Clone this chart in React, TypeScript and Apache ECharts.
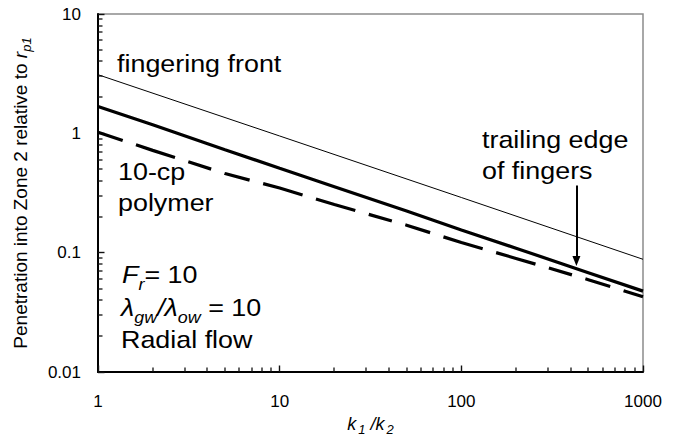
import React, { useEffect, useRef } from "react";
import * as echarts from "echarts";

// Permeability contrast k1/k2 and penetration into zone 2 (relative to r_p1)
const frontRatio = [1, 10, 100, 1000];
const frontValues = [3.1, 0.95, 0.29, 0.088];

const trailingRatio = [1, 2, 5, 10, 20, 50, 100, 200, 500, 1000];
const trailingValues = [1.68, 1.18, 0.73, 0.51, 0.357, 0.223, 0.155, 0.109, 0.068, 0.0476];

const polymerRatio = [1, 2, 5, 10, 20, 50, 100, 200, 500, 1000];
const polymerValues = [1.02, 0.72, 0.46, 0.348, 0.253, 0.17, 0.1216, 0.0895, 0.0594, 0.0427];

const xTickLabels = ["1", "10", "100", "1000"];
const yTickLabels = ["0.01", "0.1", "1", "10"];

// log ticks: 2..9 inside every decade
const minorSteps = [2, 3, 4, 5, 6, 7, 8, 9];
const xDecades = [1, 10, 100];
const yDecades = [0.01, 0.1, 1];

// arrow pointing at the trailing edge of the fingers
const arrowAt = 430;
const arrowFrom = 0.366;
const arrowTo = 0.085;

const FONT = "'Liberation Sans', Arial, Helvetica, sans-serif";
const X_MIN = 1;
const X_MAX = 1000;
const Y_MIN = 0.01;
const Y_MAX = 10;
const W = 681;
const H = 436;

const pairs = (xs: number[], ys: number[]) => xs.map((x, i) => [x, ys[i]]);

export default function App() {
  const ref = useRef<HTMLDivElement>(null);

  useEffect(() => {
    const chart = echarts.init(ref.current!, null, { renderer: "svg", width: W, height: H });

    const annoSize = 24;
    const annoScale = 1.12;
    const plain = (text: string, x: number, y: number) => ({
      type: "text",
      x,
      y,
      scaleX: annoScale,
      silent: true,
      style: {
        text,
        fill: "#000",
        fontFamily: FONT,
        fontSize: annoSize,
        lineHeight: 24,
        verticalAlign: "top",
        align: "left",
      },
    });
    const richStyles = {
      m: { fontFamily: FONT, fontSize: annoSize, lineHeight: 24, verticalAlign: "top", fill: "#000" },
      mi: {
        fontFamily: FONT,
        fontSize: annoSize,
        fontStyle: "italic",
        lineHeight: 24,
        verticalAlign: "top",
        fill: "#000",
      },
      si: {
        fontFamily: FONT,
        fontSize: 16,
        fontStyle: "italic",
        lineHeight: 16,
        padding: [14, 0, 0, 0],
        verticalAlign: "top",
        fill: "#000",
      },
    };
    const rich = (text: string, x: number, y: number) => ({
      type: "text",
      x,
      y,
      scaleX: annoScale,
      silent: true,
      style: {
        text,
        rich: richStyles,
        fill: "#000",
        fontFamily: FONT,
        fontSize: annoSize,
        verticalAlign: "top",
        align: "left",
      },
    });

    const labels = [
      plain("fingering front", 117, 52),
      plain("10-cp", 118, 160),
      plain("polymer", 118, 191),
      plain("trailing edge", 482, 128),
      plain("of fingers", 482, 159),
      rich("{mi|F}{si|r}{m|= 10}", 122, 263),
      rich("{mi|λ}{si|gw}{mi|/λ}{si|ow}{m| = 10}", 121, 296),
      plain("Radial flow", 121, 328),
    ];

    const axisText = { color: "#000", fontSize: 17, fontFamily: FONT };

    const xMinor: number[][] = [];
    xDecades.forEach((d) => minorSteps.forEach((m) => xMinor.push([d * m, Y_MIN])));
    const yMinor: number[][] = [];
    yDecades.forEach((d) => minorSteps.forEach((m) => yMinor.push([X_MIN, d * m])));

    // short inward minor ticks at 2..9 of each decade
    const minorTickItem = (horizontal: boolean) => (params: any, api: any) => {
      const p = api.coord([api.value(0), api.value(1)]);
      return horizontal
        ? {
            type: "rect",
            shape: { x: p[0], y: Math.round(p[1]) - 0.65, width: 4.5, height: 1.3 },
            style: { fill: "#111" },
          }
        : {
            type: "rect",
            shape: { x: Math.round(p[0]) - 0.65, y: p[1] - 4.5, width: 1.3, height: 4.5 },
            style: { fill: "#111" },
          };
    };

    chart.setOption({
      animation: false,
      backgroundColor: "#fff",
      textStyle: { fontFamily: FONT, color: "#000", fontSize: 17 },
      grid: {
        left: 98,
        top: 14,
        width: 545,
        height: 358,
        outerBoundsMode: "none",
        containLabel: false,
        show: true,
        borderColor: "#8c8c8c",
        borderWidth: 1.5,
      },
      xAxis: {
        type: "log",
        logBase: 10,
        min: X_MIN,
        max: X_MAX,
        axisLine: { show: true, lineStyle: { color: "#000", width: 2 } },
        axisTick: { show: true, inside: true, length: 6.5, lineStyle: { color: "#111", width: 1.4 } },
        axisLabel: {
          show: true,
          margin: 21,
          ...axisText,
          formatter: (v: number) => xTickLabels[Math.round(Math.log10(v))],
        },
        splitLine: { show: false },
        name: "{i|k}{s|1}{i| /k}{s|2}",
        nameLocation: "middle",
        nameGap: 37,
        nameTextStyle: {
          color: "#000",
          fontFamily: FONT,
          rich: {
            i: { fontSize: 18, fontStyle: "italic", fontFamily: FONT, lineHeight: 18, verticalAlign: "top", color: "#000" },
            s: {
              fontSize: 13,
              fontStyle: "italic",
              fontFamily: FONT,
              lineHeight: 12,
              padding: [8, 0, 0, 2],
              verticalAlign: "top",
              color: "#000",
            },
          },
        },
      },
      yAxis: {
        type: "log",
        logBase: 10,
        min: Y_MIN,
        max: Y_MAX,
        axisLine: { show: true, lineStyle: { color: "#000", width: 2 } },
        axisTick: { show: true, inside: true, length: 6.5, lineStyle: { color: "#111", width: 1.4 } },
        axisLabel: {
          show: true,
          margin: 17,
          ...axisText,
          formatter: (v: number) => yTickLabels[Math.round(Math.log10(v)) + 2],
        },
        splitLine: { show: false },
        name: "{n|Penetration into Zone 2 relative to }{i|r}{s|p1}",
        nameLocation: "middle",
        nameRotate: 90,
        nameGap: 67,
        nameTextStyle: {
          color: "#000",
          fontFamily: FONT,
          rich: {
            n: { fontSize: 19, fontFamily: FONT, lineHeight: 20, verticalAlign: "top", color: "#000" },
            i: { fontSize: 19, fontStyle: "italic", fontFamily: FONT, lineHeight: 20, verticalAlign: "top", color: "#000" },
            s: {
              fontSize: 13,
              fontStyle: "italic",
              fontFamily: FONT,
              lineHeight: 13,
              padding: [9, 0, 0, 0],
              verticalAlign: "top",
              color: "#000",
            },
          },
        },
      },
      series: [
        {
          type: "custom",
          silent: true,
          clip: false,
          renderItem: minorTickItem(false),
          data: xMinor,
          z: 5,
        },
        {
          type: "custom",
          silent: true,
          clip: false,
          renderItem: minorTickItem(true),
          data: yMinor,
          z: 5,
        },
        {
          name: "fingering front",
          type: "line",
          data: pairs(frontRatio, frontValues),
          showSymbol: false,
          symbol: "none",
          lineStyle: { color: "#000", width: 1 },
          z: 3,
        },
        {
          name: "trailing edge of fingers",
          type: "line",
          data: pairs(trailingRatio, trailingValues),
          showSymbol: false,
          symbol: "none",
          lineStyle: { color: "#000", width: 3.2 },
          z: 3,
          markLine: {
            silent: true,
            animation: false,
            symbol: ["none", "triangle"],
            symbolSize: [8, 10],
            label: { show: false },
            lineStyle: { color: "#000", width: 2, type: "solid" },
            data: [[{ coord: [arrowAt, arrowFrom] }, { coord: [arrowAt, arrowTo] }]],
          },
        },
        {
          name: "10-cp polymer",
          type: "line",
          data: pairs(polymerRatio, polymerValues),
          showSymbol: false,
          symbol: "none",
          lineStyle: {
            color: "#000",
            width: 3.2,
            type: [41, 14, 41, 14, 24, 14, 26, 14],
            dashOffset: 15,
          },
          z: 3,
        },
      ],
      graphic: labels,
    });

    return () => chart.dispose();
  }, []);

  return (
    <div
      ref={ref}
      style={{ position: "fixed", left: 0, top: 0, width: W, height: H, background: "#fff" }}
    />
  );
}
